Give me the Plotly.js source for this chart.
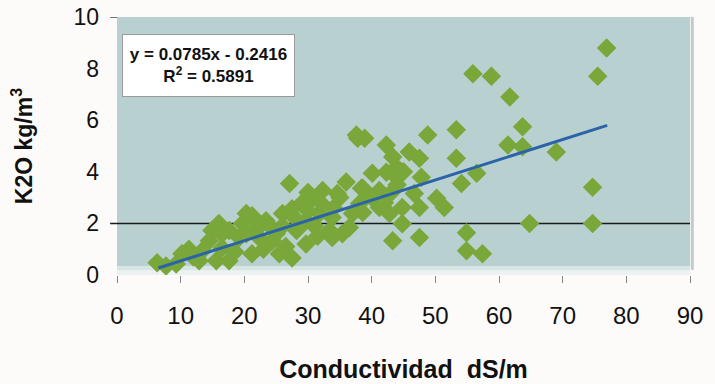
<!DOCTYPE html>
<html>
<head>
<meta charset="utf-8">
<script src="https://cdn.plot.ly/plotly-3.0.1.min.js"></script>
<style>html,body{margin:0;padding:0;background:#fdfbfa;}#chart{width:715px;height:384px;}</style>
</head>
<body>
<div id="chart"></div>
<script>
// Conductividad (dS/m)
const conductividad = [
  6.3,7.7,9.3,10.2,11.3,12.9,13.4,14.5,14.9,16,16.5,15.6,17.6,16.5,19.2,17.6,20.3,19.7,18.5,12,
  21.2,23.4,20.3,22.3,24.4,21.2,25.5,27.5,26,27.5,29.1,30.7,32.3,34.6,27.1,36,38.4,29.7,31.8,33.8,
  28.2,29.7,33.8,35.4,33.4,36.5,37,38.1,37.8,37.6,24,25,26.5,28,30,31,32,34,35,30,31.5,26,23,22,
  38.9,42.3,48.8,53.3,45.9,47.5,43.3,43.9,53.3,40.1,42.3,43.9,47.8,56.5,54.1,38.6,41.2,43.1,46.7,50.2,
  51.4,38.6,41.2,42.8,44.8,47.5,44.8,54.9,43.3,47.5,54.9,57.4,45,44,40,42,
  55.9,58.8,61.7,63.7,61.4,63.7,69,76.9,75.5,74.7,74.7,64.8
];
// K2O (kg/m3)
const k2o = [
  0.47,0.35,0.43,0.82,1.0,0.55,0.94,1.33,1.72,2.0,1.05,0.55,1.72,1.6,1.45,0.55,2.38,2.0,0.9,0.7,
  2.3,2.1,1.6,1.45,1.33,0.82,0.82,0.66,2.38,2.57,2.8,3.0,3.28,3.16,3.55,3.6,3.36,2.1,2.38,2.23,
  1.72,1.2,1.45,1.6,1.72,1.84,2.38,2.77,5.3,5.43,1.9,1.6,1.1,2.2,2.5,1.9,2.8,2.6,3.0,3.2,1.5,1.9,1.0,1.8,
  5.3,5.04,5.43,5.63,4.77,4.53,4.57,4.18,4.53,3.94,3.98,3.79,3.79,3.94,3.55,3.36,3.28,3.2,3.16,2.97,
  2.62,2.42,2.62,2.38,2.62,2.62,1.99,1.64,1.33,1.45,0.94,0.82,4.0,3.5,3.0,2.8,
  7.8,7.7,6.9,5.75,5.04,4.97,4.77,8.8,7.7,3.4,2.0,2.0
];
// Linear trend line endpoints
const trendX = [6.5, 77];
const trendY = [0.27, 5.8];
const xTicks = [0,10,20,30,40,50,60,70,80,90];
const yTicks = [0,2,4,6,8,10];
const eqText = "y = 0.0785x - 0.2416<br>R<sup>2</sup> = 0.5891";

const traces = [
  {x: conductividad, y: k2o, type: 'scatter', mode: 'markers', hoverinfo: 'skip',
   marker: {symbol: 'diamond', size: 15, color: '#79a73a', line: {width: 0}}},
  {x: trendX, y: trendY, type: 'scatter', mode: 'lines', hoverinfo: 'skip',
   line: {color: '#2a63a8', width: 3}}
];

const layout = {
  width: 715, height: 384,
  margin: {l: 117, r: 25, t: 17, b: 109},
  paper_bgcolor: '#fdfbfa',
  plot_bgcolor: '#b9d0d0',
  showlegend: false,
  font: {family: 'Liberation Sans, Arial, sans-serif', color: '#111'},
  xaxis: {
    range: [0, 90], tickvals: xTicks, ticktext: xTicks.map(String),
    showgrid: false, zeroline: false, showline: false,
    ticks: 'outside', ticklen: 7, tickcolor: '#888', tickwidth: 1,
    ticklabelstandoff: 12,
    tickfont: {size: 24, color: '#111'},
    title: {text: '<b>Conductividad  dS/m</b>', font: {size: 25, color: '#111'}, standoff: 32}
  },
  yaxis: {
    range: [0, 10], tickvals: yTicks,
    showgrid: false, zeroline: false, showline: false,
    ticks: '', ticklabelstandoff: 17,
    tickfont: {size: 23, color: '#111'},
    title: {text: '<b>K2O kg/m<sup>3</sup></b>', font: {size: 23, color: '#111'}, standoff: 34}
  },
  shapes: [
    {type: 'rect', xref: 'paper', yref: 'paper', x0: 0, x1: 1, y0: 0, y1: 0.035,
     fillcolor: 'rgba(255,255,255,0.45)', line: {width: 0}, layer: 'below'},
    {type: 'rect', xref: 'paper', yref: 'paper', x0: 0, x1: 1, y0: 0, y1: 0.018,
     fillcolor: 'rgba(255,255,255,0.5)', line: {width: 0}, layer: 'below'},
    {type: 'line', xref: 'paper', yref: 'y', x0: -0.012, x1: 1, y0: 2, y1: 2,
     line: {color: '#1a1a1a', width: 1.5}, layer: 'below'},
    {type: 'line', xref: 'paper', yref: 'y', x0: -0.012, x1: 0, y0: 10, y1: 10,
     line: {color: '#444', width: 1.5}},
    {type: 'line', xref: 'paper', yref: 'paper', x0: 1.004, x1: 1.004, y0: 0.02, y1: 1,
     line: {color: 'rgba(150,170,170,0.6)', width: 3}}
  ],
  annotations: [
    {xref: 'paper', yref: 'paper', x: 0.16, y: 0.812, xanchor: 'center', yanchor: 'middle',
     text: '<b>' + eqText + '</b>', showarrow: false, align: 'center',
     font: {size: 17, color: '#111', family: 'Liberation Sans, Arial, sans-serif'},
     bgcolor: '#ffffff', bordercolor: '#9a9a9a', borderwidth: 1, borderpad: 7,
     width: 157, height: 47}
  ]
};

Plotly.newPlot('chart', traces, layout, {staticPlot: true, displayModeBar: false});
</script>
</body>
</html>
